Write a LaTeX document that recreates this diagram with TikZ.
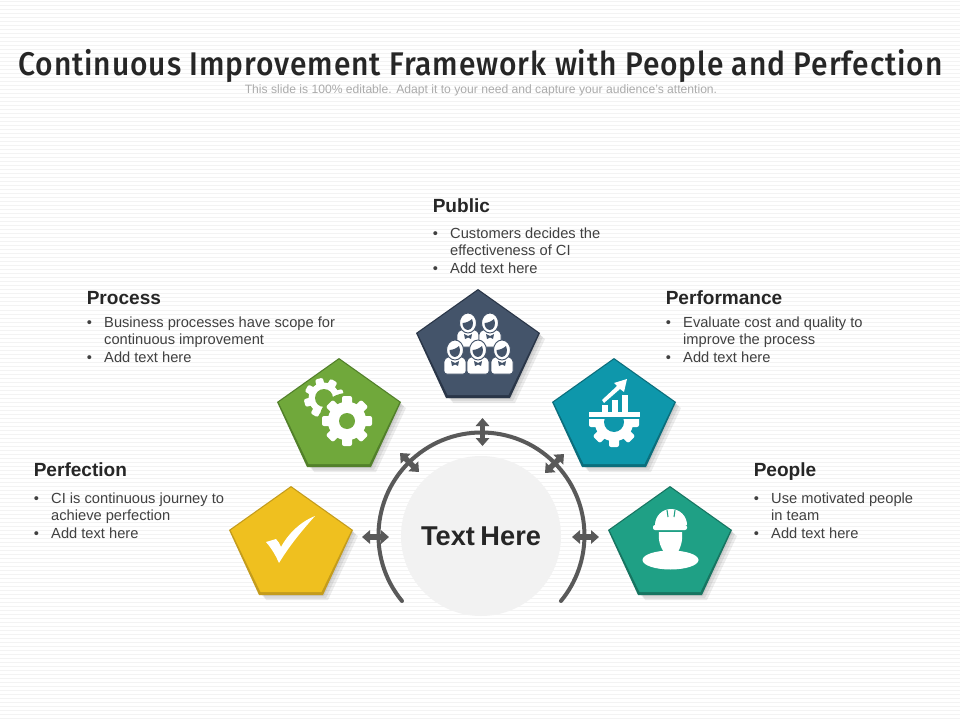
\documentclass[tikz,border=0pt]{standalone}
\usepackage{fontspec}
\setmainfont{Liberation Sans}
\newfontfamily\titlefont[LetterSpace=3]{Fira Sans Medium}
\usetikzlibrary{arrows.meta}
\definecolor{stripe}{HTML}{F3F3F3}
\definecolor{ink}{HTML}{262626}
\definecolor{bodyink}{HTML}{404040}
\definecolor{hubline}{HTML}{595959}
\definecolor{slate}{HTML}{44546A}
\definecolor{slatedk}{HTML}{2A3648}
\definecolor{tealblue}{HTML}{0E97AB}
\definecolor{tealbluedk}{HTML}{0B6E7C}
\definecolor{seagreen}{HTML}{1FA085}
\definecolor{seagreendk}{HTML}{177561}
\definecolor{leaf}{HTML}{70A83B}
\definecolor{leafdk}{HTML}{52802A}
\definecolor{gold}{HTML}{EFC01F}
\definecolor{golddk}{HTML}{C49C1C}
\tikzset{
  headtext/.style={anchor=base west,text=ink,font=\fontsize{14.3}{16}\selectfont\bfseries,inner sep=0pt},
  listtext/.style={anchor=north west,align=left,text=bodyink,font=\fontsize{11}{13.15}\selectfont,inner sep=0pt},
  blockarrow/.style={draw=hubline,line width=4.2pt,{Triangle[width=10pt,length=6pt]}-{Triangle[width=10pt,length=6pt]}},
}
\newcommand{\pentagon}[3]{% top x, top y, colour
  \begin{scope}[shift={(#1,#2)}]
    \foreach \d in {2,4,6} \fill[black,opacity=0.07] (\d,\d) -- (61+\d,44+\d) -- (31+\d,108+\d) -- (-31+\d,108+\d) -- (-61+\d,44+\d) -- cycle;
    \fill[#3dk] (0,0) -- (62,44) -- (32,109) -- (-32,109) -- (-62,44) -- cycle;
    \fill[#3] (0,1.5) -- (60.3,44.3) -- (30.5,106) -- (-30.5,106) -- (-60.3,44.3) -- cycle;
  \end{scope}}
\newcommand{\gearicon}[6]{% x, y, outer radius, hole radius, hole colour, turn
  \begin{scope}[shift={(#1,#2)}]
    \fill[white] (0,0) circle (#3*0.77);
    \foreach \a in {0,45,...,315} \fill[white,rounded corners=1.5pt,rotate=\a+#6] (-#3*0.2,0) rectangle (#3*0.2,-#3);
    \fill[#5] (0,0) circle (#4);
  \end{scope}}
\newcommand{\personicon}[2]{% x, y of head centre
  \fill[white,rounded corners=2pt,draw=slate,line width=0.7pt] (#1-11,#2+9) -- (#1-11,#2+24) -- (#1+11,#2+24) -- (#1+11,#2+9) -- (#1+5,#2+6) -- (#1-5,#2+6) -- cycle;
  \fill[white,draw=slate,line width=0.7pt] (#1,#2) ellipse (8.5 and 10);
  \fill[slate] (#1-5.5,#2) .. controls (#1-2,#2) and (#1+2,#2-2) .. (#1+4,#2-4) .. controls (#1+6.5,#2+1) and (#1+4,#2+7) .. (#1,#2+7) .. controls (#1-3,#2+7) and (#1-5.5,#2+4) .. (#1-5.5,#2) -- cycle;
  \fill[slate] (#1-4,#2+11) -- (#1,#2+13) -- (#1+4,#2+11) -- (#1+3,#2+16) -- (#1,#2+14.5) -- (#1-3,#2+16) -- cycle;}
\begin{document}
\begin{tikzpicture}[x=0.75pt,y=-0.75pt]
  \useasboundingbox (0,0) rectangle (960,720);
  \fill[white] (0,0) rectangle (960,720);
  \foreach \y in {2,6,...,718} \draw[stripe,line width=0.75pt] (0,\y) -- (960,\y);

  % heading
  \node[text=ink,inner sep=0pt] (title) at (480.5,66) {\scalebox{0.914}[1]{\titlefont\fontsize{24.6}{28}\selectfont Continuous Improvement Framework with People and Perfection}};
  \node[text=black!33,inner sep=0pt] (subtitle) at (481,90.5) {\fontsize{9.1}{11}\selectfont This slide is 100\% editable. Adapt it to your need and capture your audience’s attention.};

  % hub
  \draw[hubline,line width=3pt,line cap=round] (402,601) arc[start angle=219.5,end angle=-39.5,x radius=103,y radius=-103];
  \fill[black!5] (481,536) circle (80);
  \node[text=ink,inner sep=0pt] (hub) at (481,536) {\fontsize{20.4}{24}\selectfont\bfseries Text\hspace{-1.5pt} Here};

  \coordinate (upa) at (482.5,418); \coordinate (upb) at (482.5,446);
  \coordinate (lfa) at (362,537);   \coordinate (lfb) at (389,537);
  \coordinate (rta) at (572,537);   \coordinate (rtb) at (599,537);
  \coordinate (nwa) at (400,453);   \coordinate (nwb) at (419,472);
  \coordinate (nea) at (564,454);   \coordinate (neb) at (545,473);
  \foreach \a/\b in {upa/upb,lfa/lfb,rta/rtb,nwa/nwb,nea/neb}
    \draw[blockarrow] (\a) -- (\b);

  % pentagons
  \pentagon{478}{289}{slate}
  \pentagon{614}{358}{tealblue}
  \pentagon{670}{486}{seagreen}
  \pentagon{339}{358}{leaf}
  \pentagon{291}{486}{gold}

  % public icon
  \personicon{468}{323}
  \personicon{490}{323}
  \personicon{455}{350}
  \personicon{478}{350}
  \personicon{502}{350}

  % performance icon
  \begin{scope}
    \clip (585,419) rectangle (645,450);
    \gearicon{614}{422}{25}{10}{tealblue}{0}
  \end{scope}
  \fill[white] (589,412) rectangle (640,417);
  \fill[white] (602,405) rectangle (608,412);
  \fill[white] (612,400) rectangle (618,412);
  \fill[white] (622,395) rectangle (628,412);
  \fill[white] (602,400) -- (617,386) -- (614,383) -- (627,379) -- (624,392) -- (620,389) -- (604,403) -- cycle;

  % people icon
  \fill[white] (655,525) arc[start angle=180,end angle=0,x radius=16,y radius=-16] -- cycle;
  \draw[seagreen,line width=0.8pt] (667,510) -- (668,517) (675,510) -- (674,517);
  \fill[white,rounded corners=1.5pt] (653,525) rectangle (687,530);
  \fill[white] (659,532) -- (682,532) .. controls (683,542) and (680,548) .. (678,552) -- (664,552) .. controls (661,548) and (658,542) .. (659,532) -- cycle;
  \fill[white] (670.5,560) ellipse (28 and 9.5);

  % process icon
  \gearicon{324}{398}{20}{9}{leaf}{15}
  \fill[leaf] (347,421) circle (28);
  \gearicon{347}{421}{25}{8}{leaf}{0}

  % perfection icon
  \fill[white] (266,542) -- (276,539) .. controls (278,541) and (280,544) .. (281,547) .. controls (288,534) and (300,522) .. (315,516) .. controls (307,525) and (291,543) .. (279,563) .. controls (276,556) and (272,549) .. (266,542) -- cycle;

  % texts
  \newcommand{\bul}{\makebox[13.1pt][l]{\textbullet}}
  \newcommand{\hang}{\hspace*{13.1pt}}
  \node[headtext] (public) at (432.5,212.5) {Public};
  \node[listtext] (publiclist) at (432.5,227.5) {\bul Customers decides the\\\hang effectiveness of CI\\\bul Add text here};
  \node[headtext] (process) at (86.5,304.5) {Process};
  \node[listtext] (processlist) at (86.5,316.5) {\bul Business processes have scope for\\\hang continuous improvement\\\bul Add text here};
  \node[headtext] (performance) at (665.5,304.5) {Performance};
  \node[listtext] (performancelist) at (665.5,316.5) {\bul Evaluate cost and quality to\\\hang improve the process\\\bul Add text here};
  \node[headtext] (perfection) at (33.5,476.5) {Perfection};
  \node[listtext] (perfectionlist) at (33.5,492.5) {\bul CI is continuous journey to\\\hang achieve perfection\\\bul Add text here};
  \node[headtext] (people) at (753.5,476.5) {People};
  \node[listtext] (peoplelist) at (753.5,492.5) {\bul Use motivated people\\\hang in team\\\bul Add text here};
\end{tikzpicture}
\end{document}
